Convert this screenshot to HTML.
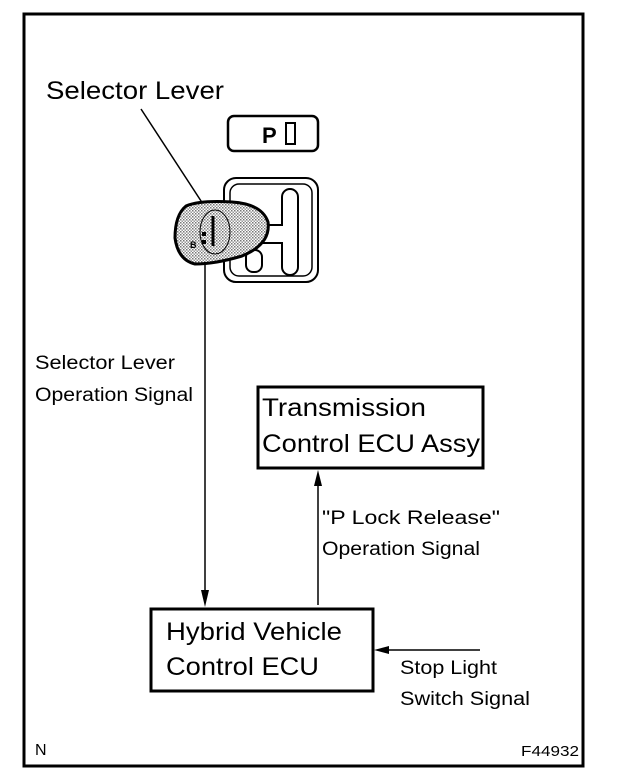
<!DOCTYPE html>
<html><head><meta charset="utf-8"><style>
body{margin:0;background:#fff;}
svg{display:block;}
text{font-family:"Liberation Sans",Arial,sans-serif;fill:#000;}
</style></head><body>
<svg width="624" height="782" viewBox="0 0 624 782" xmlns="http://www.w3.org/2000/svg">
<defs>
<pattern id="dots" width="3" height="3" patternUnits="userSpaceOnUse">
<rect width="3" height="3" fill="#fff"/><rect width="1.5" height="1.5" fill="#777"/><rect x="1.5" y="1.5" width="1.5" height="1.5" fill="#999"/>
</pattern>
</defs>
<rect x="24" y="14" width="559" height="752" fill="none" stroke="#000" stroke-width="3"/>
<text x="46" y="99" font-size="25" textLength="178" lengthAdjust="spacingAndGlyphs">Selector Lever</text>
<line x1="141" y1="109" x2="203" y2="204" stroke="#000" stroke-width="1.5"/>
<rect x="228" y="116" width="90" height="35" rx="6" fill="none" stroke="#000" stroke-width="2.5"/>
<text x="262" y="143" font-size="22" font-weight="bold">P</text>
<rect x="286" y="123" width="9" height="21" fill="none" stroke="#000" stroke-width="2"/>
<rect x="224" y="178" width="94" height="104" rx="12" fill="none" stroke="#000" stroke-width="2"/>
<rect x="230" y="184" width="82" height="92" rx="9" fill="none" stroke="#000" stroke-width="1.5"/>
<path d="M282 197 a8 8 0 0 1 16 0 v70 a8 8 0 0 1 -16 0 v-24 h-20 v-18 h20 z" fill="#fff" stroke="#000" stroke-width="2"/>
<rect x="246" y="250" width="16" height="22" rx="7" fill="none" stroke="#000" stroke-width="2"/>
<path d="M186 206 Q200 200 232 202 Q262 204 268 222 Q271 244 242 256 Q215 264 195 264 Q178 260 175 238 Q175 215 186 206 Z" fill="url(#dots)" stroke="#000" stroke-width="3"/>
<ellipse cx="215" cy="232" rx="15" ry="22" fill="none" stroke="#000" stroke-width="1"/>
<line x1="213" y1="216" x2="213" y2="246" stroke="#000" stroke-width="3"/>
<text x="190" y="248" font-size="9" font-weight="bold">B</text>
<rect x="202" y="232" width="4" height="4"/><rect x="202" y="240" width="4" height="4"/>
<line x1="205" y1="262" x2="205" y2="595" stroke="#000" stroke-width="1.5"/>
<polygon points="201,590 209,590 205,607" fill="#000"/>
<line x1="318" y1="605" x2="318" y2="480" stroke="#000" stroke-width="1.5"/>
<polygon points="314,486 322,486 318,470" fill="#000"/>
<line x1="480" y1="650" x2="385" y2="650" stroke="#000" stroke-width="1.5"/>
<polygon points="389,646 389,654 374,650" fill="#000"/>
<rect x="258" y="387" width="225" height="81" fill="#fff" stroke="#000" stroke-width="3"/>
<text x="262" y="416" font-size="25" textLength="164" lengthAdjust="spacingAndGlyphs">Transmission</text>
<text x="262" y="452" font-size="25" textLength="218" lengthAdjust="spacingAndGlyphs">Control ECU Assy</text>
<rect x="151" y="609" width="222" height="82" fill="#fff" stroke="#000" stroke-width="3"/>
<text x="166" y="640" font-size="25" textLength="176" lengthAdjust="spacingAndGlyphs">Hybrid Vehicle</text>
<text x="166" y="675" font-size="25" textLength="153" lengthAdjust="spacingAndGlyphs">Control ECU</text>
<text x="35" y="369" font-size="19" textLength="140" lengthAdjust="spacingAndGlyphs">Selector Lever</text>
<text x="35" y="401" font-size="19" textLength="158" lengthAdjust="spacingAndGlyphs">Operation Signal</text>
<text x="322" y="524" font-size="19" textLength="178" lengthAdjust="spacingAndGlyphs">"P Lock Release"</text>
<text x="322" y="555" font-size="19" textLength="158" lengthAdjust="spacingAndGlyphs">Operation Signal</text>
<text x="400" y="674" font-size="19" textLength="97" lengthAdjust="spacingAndGlyphs">Stop Light</text>
<text x="400" y="705" font-size="19" textLength="130" lengthAdjust="spacingAndGlyphs">Switch Signal</text>
<text x="35" y="755" font-size="16">N</text>
<text x="521" y="756" font-size="15" textLength="58" lengthAdjust="spacingAndGlyphs">F44932</text>
</svg>
</body></html>
